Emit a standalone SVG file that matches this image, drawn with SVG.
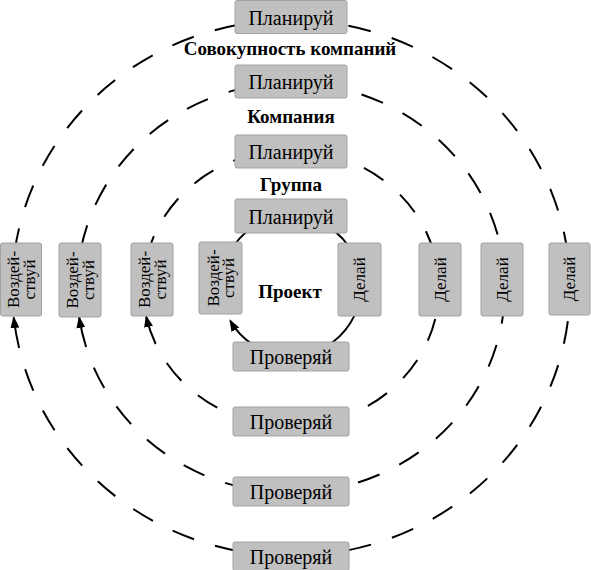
<svg xmlns="http://www.w3.org/2000/svg" width="591" height="570" viewBox="0 0 591 570">
<style>
.ring{fill:none;stroke:#000;stroke-width:2}
.dash{stroke-dasharray:23 22;stroke-dashoffset:23}
.box{fill:#c0c0c0;stroke:#a2a2a2;stroke-width:1}
.t{font-family:"Liberation Serif","Times New Roman",serif;font-size:20px;fill:#000;text-anchor:middle}
.v{font-family:"Liberation Serif","Times New Roman",serif;font-size:17px;fill:#000;text-anchor:middle}
.lbl{font-family:"Liberation Serif","Times New Roman",serif;font-size:19px;font-weight:bold;fill:#000;text-anchor:middle}
</style>
<defs>
<marker id="ah" markerUnits="userSpaceOnUse" markerWidth="13" markerHeight="10" refX="10" refY="4.5" orient="auto">
<path d="M0,0 L12,4.5 L0,9 z" fill="#000"/>
</marker>
</defs>
<rect width="591" height="570" fill="#fff"/>
<g id="connectors">
<path class="ring dash" d="M19.1,348 A279 268 0 0 0 570,288 A279 268 0 0 0 291,20 A279 268 0 0 0 13.8,318"/>
<path class="ring" d="M19.1,348 A279 268 0 0 1 13.8,318" marker-end="url(#ah)"/>
<path class="ring dash" d="M86.1,347 A214 205 0 0 0 505,288 A214 205 0 0 0 291,83 A214 205 0 0 0 79.3,318"/>
<path class="ring" d="M86.1,347 A214 205 0 0 1 79.3,318" marker-end="url(#ah)"/>
<path class="ring dash" d="M155.7,344 A148 138 0 0 0 439,288 A148 138 0 0 0 291,150 A148 138 0 0 0 146.3,317"/>
<path class="ring" d="M155.7,344 A148 138 0 0 1 146.3,317" marker-end="url(#ah)"/>
<path class="ring" d="M226.6,313.4 A70 70 0 1 1 230.4,321" marker-end="url(#ah)"/>
</g>
<g id="plan1"><rect class="box" x="235" y="0.5" width="112" height="33" rx="2"/><text class="t" x="291" y="24.5">Планируй</text></g>
<g id="plan2"><rect class="box" x="235" y="65" width="112" height="33" rx="2"/><text class="t" x="291" y="89">Планируй</text></g>
<g id="plan3"><rect class="box" x="235" y="135" width="112" height="33" rx="2"/><text class="t" x="291" y="159">Планируй</text></g>
<g id="plan4"><rect class="box" x="235" y="199" width="112" height="34" rx="2"/><text class="t" x="291" y="223.5">Планируй</text></g>
<g id="check4"><rect class="box" x="233" y="342" width="116" height="29" rx="2"/><text class="t" x="291" y="364">Проверяй</text></g>
<g id="check3"><rect class="box" x="233" y="407" width="116" height="29" rx="2"/><text class="t" x="291" y="429">Проверяй</text></g>
<g id="check2"><rect class="box" x="233" y="477" width="116" height="29" rx="2"/><text class="t" x="291" y="499">Проверяй</text></g>
<g id="check1"><rect class="box" x="233" y="542" width="116" height="29" rx="2"/><text class="t" x="291" y="564">Проверяй</text></g>
<g id="act1"><rect class="box" x="0.5" y="243" width="41" height="73" rx="2"/><text class="v" transform="translate(20.5,279.5) rotate(-90)"><tspan x="0" y="-1.5">Воздей-</tspan><tspan x="0" y="14">ствуй</tspan></text></g>
<g id="act2"><rect class="box" x="59" y="243" width="42" height="74" rx="2"/><text class="v" transform="translate(80,280) rotate(-90)"><tspan x="0" y="-2">Воздей-</tspan><tspan x="0" y="13.5">ствуй</tspan></text></g>
<g id="act3"><rect class="box" x="131" y="243" width="42" height="73" rx="2"/><text class="v" transform="translate(152,279.5) rotate(-90)"><tspan x="0" y="-2">Воздей-</tspan><tspan x="0" y="13.5">ствуй</tspan></text></g>
<g id="act4"><rect class="box" x="199" y="242" width="43" height="72" rx="2"/><text class="v" transform="translate(220.5,278) rotate(-90)"><tspan x="0" y="-2">Воздей-</tspan><tspan x="0" y="13.5">ствуй</tspan></text></g>
<g id="do4"><rect class="box" x="338" y="243" width="43" height="73" rx="2"/><text class="v" transform="translate(359.5,279.5) rotate(-90)" y="5.5">Делай</text></g>
<g id="do3"><rect class="box" x="419" y="243" width="42" height="73" rx="2"/><text class="v" transform="translate(440,279.5) rotate(-90)" y="5.5">Делай</text></g>
<g id="do2"><rect class="box" x="481" y="243" width="42" height="73" rx="2"/><text class="v" transform="translate(502,279.5) rotate(-90)" y="5.5">Делай</text></g>
<g id="do1"><rect class="box" x="549" y="243" width="41" height="72" rx="2"/><text class="v" transform="translate(569.5,279) rotate(-90)" y="5.5">Делай</text></g>
<g id="labels">
<text class="lbl" x="290" y="55">Совокупность компаний</text>
<text class="lbl" x="291" y="123">Компания</text>
<text class="lbl" x="291" y="191">Группа</text>
<text class="lbl" x="290" y="298">Проект</text>
</g>
</svg>
